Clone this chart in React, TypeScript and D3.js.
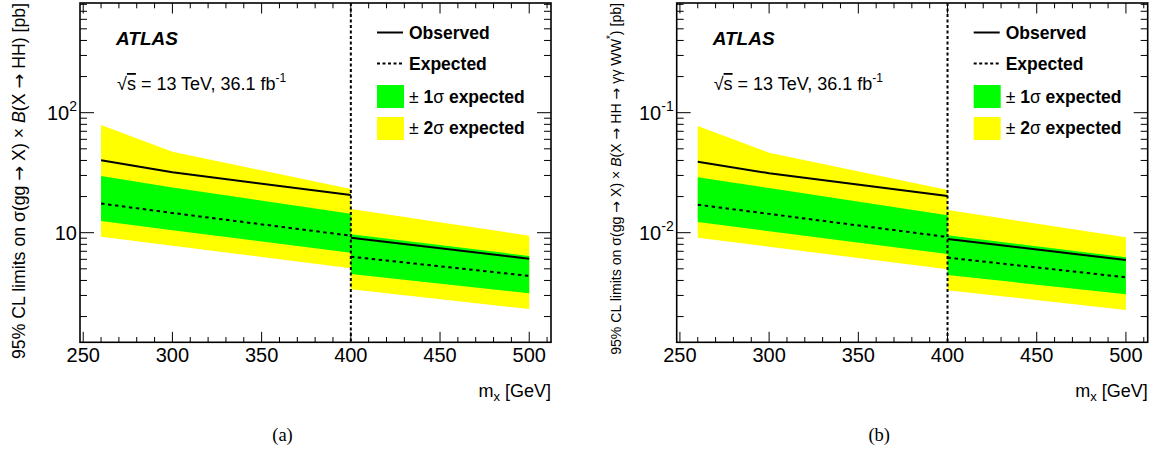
import React from 'react';
import * as d3 from 'd3';

// ---------- data ----------
const massLow = [260, 300, 400];
const massHigh = [400, 500];

// panel (a): sigma x B(X->HH) [pb]
const obsLowA = [40.1, 31.9, 20.6];
const expLowA = [17.5, 14.6, 9.44];
const g1UpLowA = [29.7, 23.8, 14.4];
const g1DnLowA = [12.5, 10.5, 6.8];
const g2UpLowA = [79.0, 47.3, 23.1];
const g2DnLowA = [9.26, 7.8, 5.05];
const obsHighA = [9.09, 6.07];
const expHighA = [6.31, 4.36];
const g1UpHighA = [9.7, 6.4];
const g1DnHighA = [4.53, 3.13];
const g2UpHighA = [15.75, 9.44];
const g2DnHighA = [3.38, 2.31];

// panel (b): sigma x B(X->HH->gg WW*) [pb]
const obsLowB = [0.0391, 0.0313, 0.0202];
const expLowB = [0.0171, 0.01435, 0.0092];
const g1UpLowB = [0.029, 0.0236, 0.014];
const g1DnLowB = [0.01227, 0.0103, 0.00664];
const g2UpLowB = [0.0775, 0.0464, 0.0227];
const g2DnLowB = [0.00908, 0.00764, 0.00495];
const obsHighB = [0.00886, 0.00592];
const expHighB = [0.0062, 0.00425];
const g1UpHighB = [0.0095, 0.00624];
const g1DnHighB = [0.00444, 0.00307];
const g2UpHighB = [0.01546, 0.00916];
const g2DnHighB = [0.00331, 0.00227];

const xMajorTicks = [250, 300, 350, 400, 450, 500];
const legendLabels = ['Observed', 'Expected', '1', '2'];

// ---------- layout ----------
const W = 1159;
const H = 453;
const FONT = '"Liberation Sans", Arial, Helvetica, sans-serif';
const ARROW_FONT = '"DejaVu Sans", sans-serif';
const X_DOMAIN: [number, number] = [248.2, 512.2];
const TOP = 3;
const BOTTOM = 342.3;
const PW = 471;

type Seg = { m: number[]; obs: number[]; exp: number[]; g1u: number[]; g1d: number[]; g2u: number[]; g2d: number[] };

interface PanelProps {
  left: number;
  yDomain: [number, number];
  low: Seg;
  high: Seg;
  majorExp: number[];
  yLabel: React.ReactNode;
  yLabelX: number;
  yLabelSize: number;
  tag: string;
}

const Arrow = () => <tspan fontFamily={ARROW_FONT}>{'\u2192'}</tspan>;

function Panel({ left, yDomain, low, high, majorExp, yLabel, yLabelX, yLabelSize, tag }: PanelProps) {
  const x = d3.scaleLinear().domain(X_DOMAIN).range([left, left + PW]);
  const y = d3.scaleLog().domain(yDomain).range([BOTTOM, TOP]);
  const right = left + PW;

  const band = (m: number[], up: number[], dn: number[]) =>
    d3
      .area<number>()
      .x((_, i) => x(m[i]))
      .y0((_, i) => y(dn[i]))
      .y1((_, i) => y(up[i]))(m) || '';
  const line = (m: number[], v: number[]) =>
    d3
      .line<number>()
      .x((_, i) => x(m[i]))
      .y((_, i) => y(v[i]))(m) || '';

  const xMinor = d3.range(250, 511, 10).filter((v) => !xMajorTicks.includes(v));
  const [lo, hi] = yDomain;
  const yMinor: number[] = [];
  const eLo = Math.floor(Math.log10(lo));
  const eHi = Math.ceil(Math.log10(hi));
  for (let e = eLo; e <= eHi; e++) {
    for (let k = 2; k <= 9; k++) {
      const v = k * Math.pow(10, e);
      if (v > lo && v < hi) yMinor.push(v);
    }
  }

  const ticks: React.ReactNode[] = [];
  xMajorTicks.forEach((t) => {
    ticks.push(<line key={'xb' + t} x1={x(t)} x2={x(t)} y1={BOTTOM} y2={BOTTOM - 10.5} stroke="#000" strokeWidth={1} />);
    ticks.push(<line key={'xt' + t} x1={x(t)} x2={x(t)} y1={TOP} y2={TOP + 10.5} stroke="#000" strokeWidth={1} />);
  });
  xMinor.forEach((t) => {
    ticks.push(<line key={'xbm' + t} x1={x(t)} x2={x(t)} y1={BOTTOM} y2={BOTTOM - 5.3} stroke="#000" strokeWidth={1} />);
    ticks.push(<line key={'xtm' + t} x1={x(t)} x2={x(t)} y1={TOP} y2={TOP + 5.3} stroke="#000" strokeWidth={1} />);
  });
  majorExp.forEach((e) => {
    const v = Math.pow(10, e);
    ticks.push(<line key={'yl' + e} x1={left} x2={left + 14} y1={y(v)} y2={y(v)} stroke="#000" strokeWidth={1} />);
    ticks.push(<line key={'yr' + e} x1={right} x2={right - 14} y1={y(v)} y2={y(v)} stroke="#000" strokeWidth={1} />);
  });
  yMinor.forEach((v, i) => {
    ticks.push(<line key={'ylm' + i} x1={left} x2={left + 7} y1={y(v)} y2={y(v)} stroke="#000" strokeWidth={1} />);
    ticks.push(<line key={'yrm' + i} x1={right} x2={right - 7} y1={y(v)} y2={y(v)} stroke="#000" strokeWidth={1} />);
  });

  const lgX = left + 297;
  return (
    <g>
      {/* bands */}
      <path d={band(low.m, low.g2u, low.g2d)} fill="#ffff00" />
      <path d={band(high.m, high.g2u, high.g2d)} fill="#ffff00" />
      <path d={band(low.m, low.g1u, low.g1d)} fill="#00ff00" />
      <path d={band(high.m, high.g1u, high.g1d)} fill="#00ff00" />
      <path d={line(low.m, low.obs)} fill="none" stroke="#000" strokeWidth={2} />
      <path d={line(high.m, high.obs)} fill="none" stroke="#000" strokeWidth={2} />
      <path d={line(low.m, low.exp)} fill="none" stroke="#000" strokeWidth={2} strokeDasharray="3.5,3.5" />
      <path d={line(high.m, high.exp)} fill="none" stroke="#000" strokeWidth={2} strokeDasharray="3.5,3.5" />
      {/* vertical boundary */}
      <line x1={x(400)} x2={x(400)} y1={TOP} y2={BOTTOM} stroke="#000" strokeWidth={2} strokeDasharray="3,2.5" />
      {/* frame */}
      {ticks}
      <rect x={left} y={TOP} width={PW} height={BOTTOM - TOP} fill="none" stroke="#000" strokeWidth={1.6} />
      {/* x tick labels */}
      {xMajorTicks.map((t) => (
        <text key={'xl' + t} x={x(t)} y={362} textAnchor="middle" fontFamily={FONT} fontSize={20}>
          {t}
        </text>
      ))}
      {/* y tick labels */}
      {majorExp.map((e) => (
        <text key={'ylab' + e} x={left - 3} y={y(Math.pow(10, e)) + 7.5} textAnchor="end" fontFamily={FONT} fontSize={20}>
          10
          {e !== 1 && (
            <tspan fontSize={14} dy={-9}>
              {String(e)}
            </tspan>
          )}
        </text>
      ))}
      {/* x title */}
      <text x={right} y={397} textAnchor="end" fontFamily={FONT} fontSize={18}>
        m
        <tspan fontSize={13} dy={4}>x</tspan>
        <tspan dy={-4}> [GeV]</tspan>
      </text>
      {/* y title */}
      <text transform={`translate(${yLabelX},3) rotate(-90)`} textAnchor="end" fontFamily={FONT} fontSize={yLabelSize}>
        {yLabel}
      </text>
      {/* ATLAS */}
      <text x={left + 36} y={45} fontFamily={FONT} fontSize={19} fontWeight="bold" fontStyle="italic">
        ATLAS
      </text>
      <text x={left + 37} y={90} fontFamily={FONT} fontSize={18}>
        {'\u221A'}
        <tspan textDecoration="overline">s</tspan>
        {' = 13 TeV, 36.1 fb'}
        <tspan fontSize={12} dy={-8}>-1</tspan>
      </text>
      {/* legend */}
      <line x1={lgX} x2={lgX + 26} y1={32.5} y2={32.5} stroke="#000" strokeWidth={2} />
      <text x={lgX + 32} y={39} fontFamily={FONT} fontSize={17.5} fontWeight="bold">
        {legendLabels[0]}
      </text>
      <line x1={lgX} x2={lgX + 26} y1={63.5} y2={63.5} stroke="#000" strokeWidth={2} strokeDasharray="3,2.5" />
      <text x={lgX + 32} y={70} fontFamily={FONT} fontSize={17.5} fontWeight="bold">
        {legendLabels[1]}
      </text>
      <rect x={lgX} y={85} width={27} height={23} fill="#00ff00" />
      <text x={lgX + 32} y={102.5} fontFamily={FONT} fontSize={17.5} fontWeight="bold">
        <tspan fontWeight="normal">{'\u00B1'}</tspan> {legendLabels[2]}
        <tspan fontWeight="normal">{'\u03C3'}</tspan> expected
      </text>
      <rect x={lgX} y={117} width={27} height={23} fill="#ffff00" />
      <text x={lgX + 32} y={133.5} fontFamily={FONT} fontSize={17.5} fontWeight="bold">
        <tspan fontWeight="normal">{'\u00B1'}</tspan> {legendLabels[3]}
        <tspan fontWeight="normal">{'\u03C3'}</tspan> expected
      </text>
      {/* tag */}
      <text x={left + 202.5} y={441} textAnchor="middle" fontFamily='"Liberation Serif", "Times New Roman", serif' fontSize={18.5}>
        {tag}
      </text>
    </g>
  );
}

export default function App() {
  const segA_low: Seg = { m: massLow, obs: obsLowA, exp: expLowA, g1u: g1UpLowA, g1d: g1DnLowA, g2u: g2UpLowA, g2d: g2DnLowA };
  const segA_high: Seg = { m: massHigh, obs: obsHighA, exp: expHighA, g1u: g1UpHighA, g1d: g1DnHighA, g2u: g2UpHighA, g2d: g2DnHighA };
  const segB_low: Seg = { m: massLow, obs: obsLowB, exp: expLowB, g1u: g1UpLowB, g1d: g1DnLowB, g2u: g2UpLowB, g2d: g2DnLowB };
  const segB_high: Seg = { m: massHigh, obs: obsHighB, exp: expHighB, g1u: g1UpHighB, g1d: g1DnHighB, g2u: g2UpHighB, g2d: g2DnHighB };

  const yMinA = Math.pow(10, 1 - (BOTTOM - 232.7) / 120);
  const yMaxA = Math.pow(10, 2 + (112.7 - TOP) / 120);

  return (
    <svg width={W} height={H} style={{ position: 'absolute', left: 0, top: 0, background: '#fff' }}>
      <rect x={0} y={0} width={W} height={H} fill="#fff" />
      <Panel
        left={80}
        yDomain={[yMinA, yMaxA]}
        low={segA_low}
        high={segA_high}
        majorExp={[1, 2]}
        yLabelX={24.5}
        yLabelSize={17.7}
        tag="(a)"
        yLabel={
          <>
            {'95% CL limits on \u03C3(gg '}
            <Arrow />
            {' X) \u00D7 '}
            <tspan fontStyle="italic">B</tspan>
            {'(X '}
            <Arrow />
            {' HH) [pb]'}
          </>
        }
      />
      <Panel
        left={676.7}
        yDomain={[yMinA * 1e-3, yMaxA * 1e-3]}
        low={segB_low}
        high={segB_high}
        majorExp={[-2, -1]}
        yLabelX={621}
        yLabelSize={14.1}
        tag="(b)"
        yLabel={
          <>
            {'95% CL limits on \u03C3(gg '}
            <Arrow />
            {' X) \u00D7 '}
            <tspan fontStyle="italic">B</tspan>
            {'(X '}
            <Arrow />
            {' HH '}
            <Arrow />
            {' \u03B3\u03B3 WW'}
            <tspan fontSize={10} dy={-7}>*</tspan>
            <tspan dy={7}>{') [pb]'}</tspan>
          </>
        }
      />
    </svg>
  );
}
